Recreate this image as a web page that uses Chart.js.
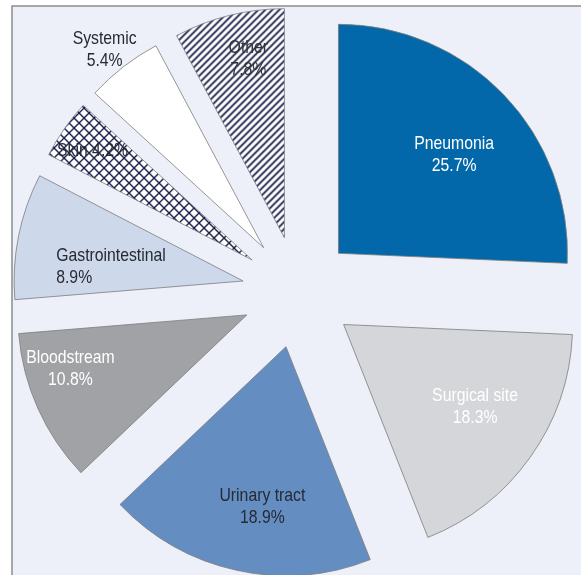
<!DOCTYPE html>
<html>
<head>
<meta charset="utf-8">
<script src="https://cdn.jsdelivr.net/npm/chart.js@4"></script>
<style>
    html, body { margin: 0; padding: 0; background: #ffffff; }
    #wrap { width: 581px; height: 575px; }
</style>
</head>
<body>
<div id="wrap"><canvas id="infChart" width="581" height="575"></canvas></div>
<script>
    // data
    const categories = ['Pneumonia', 'Surgical site', 'Urinary tract', 'Bloodstream', 'Gastrointestinal', 'Skin', 'Systemic', 'Other'];
    const shares = [25.7, 18.3, 18.9, 10.8, 8.9, 4.2, 5.4, 7.8];
    const labelTexts = [
        ['Pneumonia', '25.7%'],
        ['Surgical site', '18.3%'],
        ['Urinary tract', '18.9%'],
        ['Bloodstream', '10.8%'],
        ['Gastrointestinal', '8.9%'],
        ['Skin 4.2%'],
        ['Systemic', '5.4%'],
        ['Other', '7.8%']
    ];

    // styling
    const EXPLODE = 56;
    const RADIUS = 229;
    const BG = '#edf0f8';
    const NARROW = 0.83; // squeeze the sans to look like a narrow face
    const labelFrac = [0.662, 0.677, 0.705, 0.804, 0.817, 0.843, 1.109, 0.795];
    const labelTurn = [2.5, -2.5, -3.0, 5.5, -5.4, -0.5, -0.8, 2.0];
    const labelColor = ['#ffffff', '#ffffff', '#262a33', '#ffffff', '#262a33', '#262a33', '#262a33', '#333333'];
    const labelAlign = ['center', 'center', 'center', 'center', 'left', 'center', 'center', 'center'];

    function makePattern(w, h, drawFn) {
        const c = document.createElement('canvas');
        c.width = w; c.height = h;
        const g = c.getContext('2d');
        g.fillStyle = '#ffffff';
        g.fillRect(0, 0, w, h);
        drawFn(g);
        return document.createElement('canvas').getContext('2d').createPattern(c, 'repeat');
    }

    const crossHatch = makePattern(10, 10, g => {
        g.strokeStyle = '#161c48';
        g.lineWidth = 1.4;
        g.beginPath();
        g.moveTo(-1, -1); g.lineTo(11, 11);
        g.moveTo(-1, 11); g.lineTo(11, -1);
        g.stroke();
    });

    const stripes = makePattern(7, 7, g => {
        g.strokeStyle = '#141a46';
        g.lineWidth = 1.7;
        g.beginPath();
        g.moveTo(-1, 8); g.lineTo(8, -1);
        g.moveTo(-8, 8); g.lineTo(1, -1);
        g.moveTo(6, 8); g.lineTo(15, -1);
        g.stroke();
    });

    const sliceColors = ['#0368a9', '#d5d6d9', '#648dc1', '#a1a2a5', '#cdd8eb', crossHatch, '#ffffff', stripes];

    const framePlugin = {
        id: 'frame',
        beforeDraw(chart) {
            const ctx = chart.ctx;
            ctx.save();
            ctx.fillStyle = BG;
            ctx.fillRect(12, 6, chart.width - 12, chart.height - 6);
            ctx.strokeStyle = '#8c8c8c';
            ctx.lineWidth = 1.5;
            ctx.beginPath();
            ctx.moveTo(12, chart.height);
            ctx.lineTo(12, 6);
            ctx.lineTo(chart.width, 6);
            ctx.stroke();
            ctx.restore();
        }
    };

    // push each slice out along its bisector
    const explodePlugin = {
        id: 'explode',
        afterUpdate(chart) {
            chart.getDatasetMeta(0).data.forEach(arc => {
                if (arc._exploded) return;
                const origDraw = arc.draw;
                arc.draw = function (ctx, area) {
                    const mid = (this.startAngle + this.endAngle) / 2;
                    ctx.save();
                    ctx.translate(Math.cos(mid) * EXPLODE, Math.sin(mid) * EXPLODE);
                    origDraw.call(this, ctx, area);
                    ctx.restore();
                };
                arc._exploded = true;
            });
        }
    };

    const labelPlugin = {
        id: 'sliceLabels',
        afterDatasetsDraw(chart) {
            const ctx = chart.ctx;
            chart.getDatasetMeta(0).data.forEach((arc, i) => {
                const mid = (arc.startAngle + arc.endAngle) / 2 + labelTurn[i] * Math.PI / 180;
                const dist = EXPLODE + labelFrac[i] * arc.outerRadius;
                const x = arc.x + Math.cos(mid) * dist;
                const y = arc.y + Math.sin(mid) * dist;
                const lines = labelTexts[i];
                const lh = 22;
                ctx.save();
                ctx.translate(x, y);
                ctx.scale(NARROW, 1);
                ctx.font = '19px "Liberation Sans", Arial, sans-serif';
                ctx.textBaseline = 'middle';
                ctx.fillStyle = labelColor[i];
                ctx.textAlign = labelAlign[i];
                lines.forEach((t, k) => {
                    ctx.fillText(t, 0, (k - (lines.length - 1) / 2) * lh);
                });
                ctx.restore();
            });
        }
    };

    new Chart(document.getElementById('infChart').getContext('2d'), {
        type: 'pie',
        data: {
            labels: categories,
            datasets: [{
                data: shares,
                backgroundColor: sliceColors,
                borderColor: '#7c7c7c',
                borderWidth: 0.8
            }]
        },
        options: {
            responsive: false,
            animation: false,
            radius: RADIUS,
            layout: { padding: { left: 15, top: 9 } },
            plugins: {
                legend: { display: false },
                tooltip: { enabled: false }
            },
            events: []
        },
        plugins: [framePlugin, explodePlugin, labelPlugin]
    });
</script>
</body>
</html>
